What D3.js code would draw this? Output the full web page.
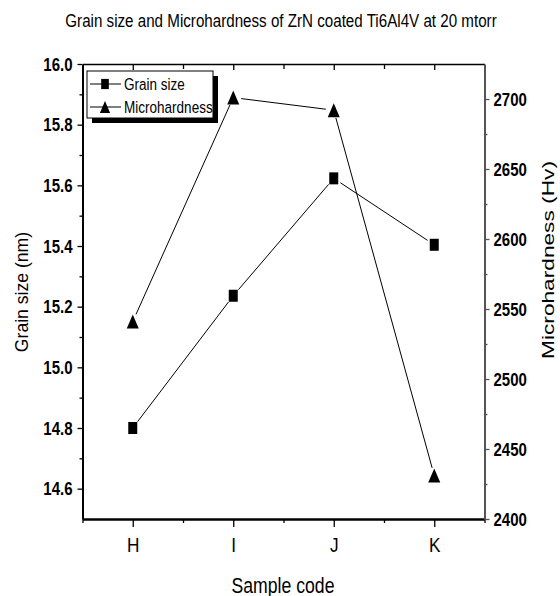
<!DOCTYPE html>
<html lang="en">
<head>
<meta charset="UTF-8">
<title>Grain size and Microhardness</title>
<script src="https://d3js.org/d3.v7.min.js"></script>
<style>
    body { margin: 0; background: #fff; }
    text { font-family: "Liberation Sans", Arial, sans-serif; fill: #000; }
</style>
</head>
<body>
<div id="chart"></div>
<script>
    // data
    var categories = ["H", "I", "J", "K"];
    var grainSize = [14.80, 15.236, 15.623, 15.404];
    var microhardness = [2541, 2701, 2692, 2431];
    var leftTicks = [14.6, 14.8, 15.0, 15.2, 15.4, 15.6, 15.8, 16.0];
    var leftMinor = [14.7, 14.9, 15.1, 15.3, 15.5, 15.7, 15.9];
    var rightTicks = [2400, 2450, 2500, 2550, 2600, 2650, 2700];
    var rightMinor = [2425, 2475, 2525, 2575, 2625, 2675];

    var width = 560, height = 596;
    var plotLeft = 82.5, plotRight = 484.5, plotTop = 64, plotBottom = 519;
    var squeeze = 0.82; // the figure is squashed horizontally

    var svg = d3.select("#chart").append("svg")
        .attr("width", width)
        .attr("height", height);

    var x = d3.scaleLinear().domain([-0.5, 3.5]).range([plotLeft, plotRight]);
    var yL = d3.scaleLinear().domain([14.5, 16.0]).range([plotBottom, plotTop]);
    var yR = d3.scaleLinear().domain([2400, 2725]).range([plotBottom, plotTop]);

    function narrow(k) {
        // fake a condensed face by scaling each label in x
        return function (sel) {
            sel.each(function () {
                var t = d3.select(this);
                var tx = +t.attr("x") || 0;
                t.attr("x", 0).attr("transform", "translate(" + tx + ",0) scale(" + k + ",1)");
            });
        };
    }

    // title
    svg.append("text")
        .attr("transform", "translate(281,27) scale(" + squeeze + ",1)")
        .attr("text-anchor", "middle")
        .style("font-size", "18.5px")
        .text("Grain size and Microhardness of ZrN coated Ti6Al4V at 20 mtorr");

    // bottom axis
    var gx = svg.append("g").attr("transform", "translate(0," + plotBottom + ")");
    gx.call(d3.axisBottom(x).tickValues([0, 1, 2, 3]).tickSize(8).tickPadding(10).tickSizeOuter(0)
        .tickFormat(function (d) { return categories[d]; }));
    gx.append("g").call(d3.axisBottom(x).tickValues([-0.5, 0.5, 1.5, 2.5, 3.5]).tickSize(4).tickFormat(""))
        .select(".domain").remove();
    gx.select(".domain").attr("stroke-width", 2.5);
    gx.selectAll("text").style("font-size", "21px").call(narrow(squeeze));

    // top axis, ticks pointing in
    var gt = svg.append("g").attr("transform", "translate(0," + plotTop + ")");
    gt.call(d3.axisTop(x).tickValues([0, 1, 2, 3]).tickSize(-6).tickSizeOuter(0).tickFormat(""));
    gt.append("g").call(d3.axisTop(x).tickValues([0.5, 1.5, 2.5]).tickSize(-5).tickFormat(""))
        .select(".domain").remove();
    gt.select(".domain").attr("stroke-width", 1.5);

    // left axis
    var gl = svg.append("g").attr("transform", "translate(" + plotLeft + ",0)");
    gl.call(d3.axisLeft(yL).tickValues(leftTicks).tickSize(5).tickPadding(5).tickSizeOuter(0)
        .tickFormat(d3.format(".1f")));
    gl.append("g").call(d3.axisLeft(yL).tickValues(leftMinor).tickSize(3).tickFormat(""))
        .select(".domain").remove();
    gl.select(".domain").attr("stroke-width", 2);
    gl.selectAll("text").style("font-size", "19px").style("font-weight", "bold").call(narrow(0.79));

    // right axis
    var gr = svg.append("g").attr("transform", "translate(" + plotRight + ",0)");
    gr.call(d3.axisRight(yR).tickValues(rightTicks).tickSize(5).tickPadding(4).tickSizeOuter(0)
        .tickFormat(d3.format("d")));
    gr.append("g").call(d3.axisRight(yR).tickValues(rightMinor).tickSize(3).tickFormat(""))
        .select(".domain").remove();
    gr.selectAll(".domain").attr("stroke", "#555").attr("stroke-width", 2);
    gr.selectAll("line").attr("stroke", "#555");
    gr.selectAll("text").style("font-size", "19px").style("font-weight", "bold").call(narrow(0.79));
    svg.selectAll(".tick line").attr("stroke-width", 1.3);

    // axis titles
    svg.append("text")
        .attr("transform", "translate(283,593) scale(" + squeeze + ",1)")
        .attr("text-anchor", "middle")
        .style("font-size", "21.5px")
        .text("Sample code");

    svg.append("text")
        .attr("transform", "translate(28,292) rotate(-90)")
        .attr("text-anchor", "middle")
        .style("font-size", "17.6px")
        .text("Grain size (nm)");

    svg.append("text")
        .attr("transform", "translate(554,260) scale(0.7,1) rotate(-90)")
        .attr("text-anchor", "middle")
        .style("font-size", "22.7px")
        .text("Microhardness (Hv)");

    // connecting lines, with a small gap round each marker
    function gappedLines(g, pts, gap) {
        for (var i = 0; i < pts.length - 1; i++) {
            var p = pts[i], q = pts[i + 1];
            var dx = q[0] - p[0], dy = q[1] - p[1];
            var len = Math.sqrt(dx * dx + dy * dy);
            var ux = dx / len, uy = dy / len;
            g.append("line")
                .attr("x1", p[0] + ux * gap).attr("y1", p[1] + uy * gap)
                .attr("x2", q[0] - ux * gap).attr("y2", q[1] - uy * gap)
                .attr("stroke", "#000").attr("stroke-width", 1);
        }
    }

    var squarePath = "M-4.5,-6H4.5V6H-4.5Z";
    var trianglePath = "M0,-7L6,7L-6,7Z";

    var grainPts = grainSize.map(function (v, i) { return [x(i), yL(v)]; });
    var hardPts = microhardness.map(function (v, i) { return [x(i), yR(v)]; });

    var gLines = svg.append("g");
    gappedLines(gLines, grainPts, 8);
    gappedLines(gLines, hardPts, 8);

    svg.append("g").selectAll("path")
        .data(grainPts)
        .join("path")
        .attr("d", squarePath)
        .attr("transform", function (d) { return "translate(" + d[0] + "," + d[1] + ")"; })
        .attr("fill", "#000");

    svg.append("g").selectAll("path")
        .data(hardPts)
        .join("path")
        .attr("d", trianglePath)
        .attr("transform", function (d) { return "translate(" + d[0] + "," + d[1] + ")"; })
        .attr("fill", "#000");

    // legend with drop shadow
    var lg = svg.append("g");
    lg.append("rect").attr("x", 92).attr("y", 76).attr("width", 126).attr("height", 47).attr("fill", "#000");
    lg.append("rect").attr("x", 87).attr("y", 71).attr("width", 126).attr("height", 47)
        .attr("fill", "#fff").attr("stroke", "#000").attr("stroke-width", 1);
    var legendItems = [
        { name: "Grain size", shape: squarePath, y: 84 },
        { name: "Microhardness", shape: trianglePath, y: 107 }
    ];
    legendItems.forEach(function (d) {
        lg.append("line").attr("x1", 90).attr("x2", 121).attr("y1", d.y).attr("y2", d.y)
            .attr("stroke", "#000").attr("stroke-width", 1);
        lg.append("path").attr("d", d.shape)
            .attr("transform", "translate(105," + d.y + ") scale(0.85)")
            .attr("fill", "#000");
        lg.append("text")
            .attr("transform", "translate(124," + (d.y + 5.5) + ") scale(" + squeeze + ",1)")
            .style("font-size", "16.5px")
            .text(d.name);
    });
</script>
</body>
</html>
